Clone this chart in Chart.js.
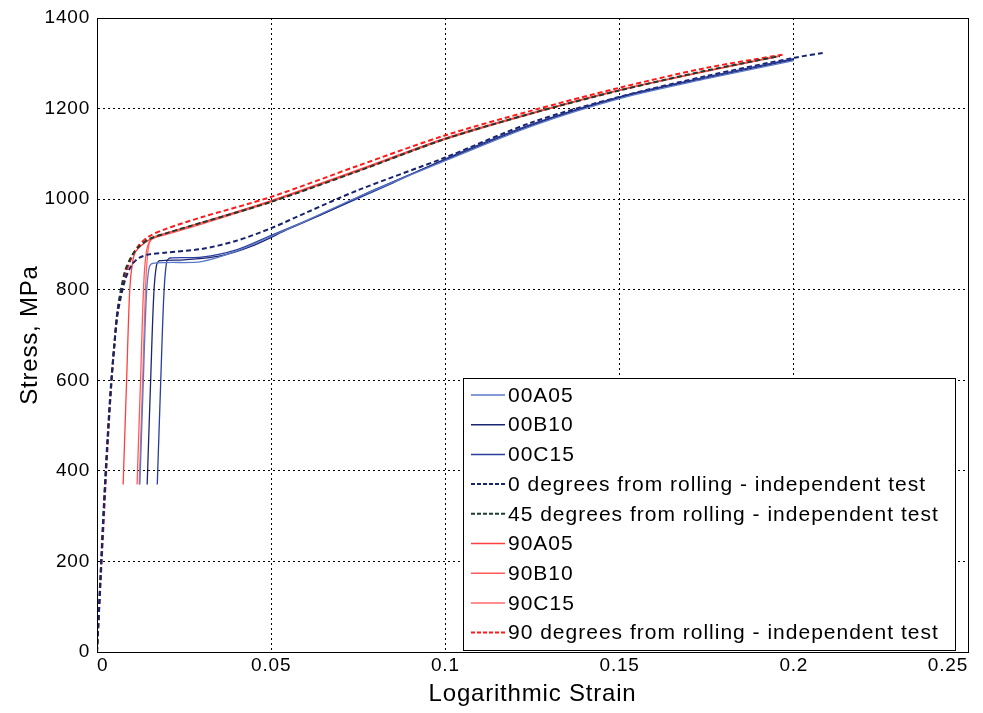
<!DOCTYPE html>
<html>
<head>
<meta charset="utf-8">
<script src="https://cdn.jsdelivr.net/npm/chart.js@4.4.0/dist/chart.umd.min.js"></script>
<style>
  html, body { margin: 0; padding: 0; background: #fff; }
  #wrap { width: 983px; height: 713px; position: relative; }
</style>
</head>
<body>
<div id="wrap"><canvas id="stressChart"></canvas></div>
<script>
// tick values
const xTicks = [0, 0.05, 0.1, 0.15, 0.2, 0.25];
const yTicks = [0, 200, 400, 600, 800, 1000, 1200, 1400];

// 0 degrees specimens (solid)
const strain00A05 = [0.0123, 0.0133, 0.0142, 0.0150, 0.0160, 0.020, 0.030, 0.040, 0.050, 0.060, 0.075, 0.100, 0.125, 0.150, 0.175, 0.200];
const stress00A05 = [370, 600, 790, 850, 858, 860, 862, 885, 918, 952, 1005, 1085, 1162, 1222, 1266, 1306];
const strain00B10 = [0.0144, 0.0154, 0.0163, 0.0171, 0.0180, 0.025, 0.035, 0.045, 0.055, 0.065, 0.080, 0.100, 0.125, 0.150, 0.175, 0.200];
const stress00B10 = [370, 600, 790, 855, 864, 866, 874, 898, 934, 968, 1022, 1087, 1164, 1224, 1268, 1308];
const strain00C15 = [0.0173, 0.0183, 0.0192, 0.0200, 0.0210, 0.030, 0.040, 0.050, 0.060, 0.070, 0.085, 0.100, 0.125, 0.150, 0.175, 0.200];
const stress00C15 = [370, 600, 790, 862, 870, 872, 888, 920, 952, 985, 1036, 1089, 1166, 1226, 1270, 1310];

// independent tests (dashed)
const strain0deg = [0, 0.001, 0.002, 0.003, 0.004, 0.005, 0.006, 0.008, 0.010, 0.012, 0.015, 0.020, 0.030, 0.040, 0.050, 0.060, 0.075, 0.100, 0.125, 0.150, 0.175, 0.200, 0.2085];
const stress0deg = [0, 170, 330, 470, 590, 680, 750, 820, 855, 870, 878, 882, 890, 908, 936, 970, 1020, 1092, 1170, 1226, 1272, 1312, 1323];
const strain45deg = [0, 0.001, 0.002, 0.003, 0.004, 0.005, 0.006, 0.008, 0.010, 0.012, 0.015, 0.020, 0.030, 0.050, 0.075, 0.100, 0.125, 0.150, 0.175, 0.196];
const stress45deg = [0, 160, 320, 460, 580, 680, 760, 840, 875, 895, 912, 925, 948, 994, 1062, 1133, 1190, 1240, 1284, 1316];

// 90 degrees specimens (solid)
const strain90A05 = [0.0075, 0.0085, 0.0094, 0.0102, 0.0112, 0.015, 0.020, 0.030, 0.050, 0.075, 0.100, 0.125, 0.150, 0.175, 0.196];
const stress90A05 = [370, 600, 800, 860, 885, 910, 925, 948, 996, 1064, 1134, 1190, 1241, 1283, 1316];
const strain90B10 = [0.0115, 0.0125, 0.0134, 0.0142, 0.0155, 0.020, 0.030, 0.050, 0.075, 0.100, 0.125, 0.150, 0.175, 0.196];
const stress90B10 = [370, 600, 810, 885, 910, 922, 945, 994, 1062, 1132, 1189, 1240, 1282, 1316];
const strain90C15 = [0.0121, 0.0131, 0.0140, 0.0148, 0.0160, 0.020, 0.030, 0.050, 0.075, 0.100, 0.125, 0.150, 0.175, 0.196];
const stress90C15 = [370, 600, 815, 895, 915, 925, 948, 997, 1065, 1135, 1191, 1241, 1283, 1317];

const strain90deg = [0, 0.001, 0.002, 0.003, 0.004, 0.005, 0.006, 0.008, 0.010, 0.012, 0.015, 0.020, 0.030, 0.050, 0.075, 0.100, 0.125, 0.150, 0.175, 0.1975];
const stress90deg = [0, 150, 300, 450, 580, 680, 760, 830, 872, 898, 918, 935, 960, 1005, 1074, 1141, 1196, 1246, 1290, 1320];

const seriesLabels = ['00A05', '00B10', '00C15',
    '0 degrees from rolling - independent test', '45 degrees from rolling - independent test',
    '90A05', '90B10', '90C15', '90 degrees from rolling - independent test'];

const FONT = '"Liberation Sans", Arial, sans-serif';

function toPoints(xs, ys) {
    return xs.map((x, i) => ({ x: x, y: ys[i] }));
}

const lineSpecs = [
    { xs: strain00A05, ys: stress00A05, color: '#5a78c8', dash: [] },
    { xs: strain00B10, ys: stress00B10, color: '#1c2670', dash: [] },
    { xs: strain00C15, ys: stress00C15, color: '#2a3ea0', dash: [] },
    { xs: strain0deg, ys: stress0deg, color: '#18236e', dash: [5, 3] },
    { xs: strain45deg, ys: stress45deg, color: '#1d3b2e', dash: [5, 3] },
    { xs: strain90A05, ys: stress90A05, color: '#ff4040', dash: [] },
    { xs: strain90B10, ys: stress90B10, color: '#ff5a5a', dash: [] },
    { xs: strain90C15, ys: stress90C15, color: '#ff6a6a', dash: [] },
    { xs: strain90deg, ys: stress90deg, color: '#ff1a1a', dash: [5, 3] }
];

const datasets = lineSpecs.map((s, i) => ({
    label: seriesLabels[i],
    data: toPoints(s.xs, s.ys),
    borderColor: s.color,
    backgroundColor: s.color,
    borderDash: s.dash,
    borderWidth: s.dash.length ? 2 : 1.3,
    pointRadius: 0,
    showLine: true,
    tension: 0.3,
    fill: false
}));

// slightly wider letter spacing, like the scanned Helvetica
const spacing = {
    id: 'spacing',
    beforeLayout(chart) { chart.ctx.letterSpacing = '0.8px'; },
    beforeDraw(chart) { chart.ctx.letterSpacing = '0.8px'; }
};

// box around the axes plus the legend panel
const boxAndLegend = {
    id: 'boxAndLegend',
    afterDraw(chart) {
        const ctx = chart.ctx;
        const a = chart.chartArea;
        ctx.save();
        ctx.strokeStyle = '#000';
        ctx.lineWidth = 1;
        ctx.setLineDash([]);
        ctx.strokeRect(a.left + 0.5, a.top + 0.5, a.right - a.left, a.bottom - a.top);

        // legend
        const lx = 463, ly = 378, lw = 492, lh = 272;
        ctx.fillStyle = '#fff';
        ctx.fillRect(lx, ly, lw, lh);
        ctx.strokeRect(lx + 0.5, ly + 0.5, lw, lh);
        ctx.font = '21px ' + FONT;
        ctx.letterSpacing = '1px';
        ctx.textBaseline = 'middle';
        chart.data.datasets.forEach((ds, i) => {
            const yy = 395 + i * 29.7;
            ctx.strokeStyle = ds.borderColor;
            ctx.lineWidth = ds.borderDash.length ? 2 : 1.5;
            ctx.setLineDash(ds.borderDash.length ? [4, 2] : []);
            ctx.beginPath();
            ctx.moveTo(471, yy);
            ctx.lineTo(505, yy);
            ctx.stroke();
            ctx.fillStyle = '#000';
            ctx.fillText(ds.label, 508, yy + 1);
        });
        ctx.restore();
    }
};

const ctx = document.getElementById('stressChart').getContext('2d');
new Chart(ctx, {
    type: 'scatter',
    data: { datasets: datasets },
    options: {
        responsive: true,
        maintainAspectRatio: false,
        animation: false,
        layout: { padding: { top: 18, right: 15, left: 0, bottom: 0 } },
        plugins: {
            legend: { display: false },
            tooltip: { enabled: false }
        },
        scales: {
            x: {
                type: 'linear',
                min: 0,
                max: 0.25,
                afterBuildTicks: (axis) => { axis.ticks = xTicks.map(v => ({ value: v })); },
                afterFit: (axis) => { axis.height = 61; axis.paddingRight = 0; axis.paddingLeft = 0; },
                ticks: {
                    color: '#000',
                    font: { family: FONT, size: 19 },
                    padding: 2,
                    maxRotation: 0,
                    align: 'inner',
                    callback: (v) => String(v)
                },
                grid: { color: '#000', lineWidth: 1, tickLength: 0, drawTicks: false },
                border: { display: true, color: '#000', dash: [2, 3] },
                title: {
                    display: true,
                    text: 'Logarithmic Strain',
                    color: '#000',
                    font: { family: FONT, size: 24 },
                    padding: { top: 0, bottom: 4 }
                }
            },
            y: {
                type: 'linear',
                min: 0,
                max: 1400,
                afterBuildTicks: (axis) => { axis.ticks = yTicks.map(v => ({ value: v })); },
                afterFit: (axis) => { axis.width = 97; axis.paddingTop = 0; axis.paddingBottom = 0; },
                ticks: {
                    color: '#000',
                    font: { family: FONT, size: 19 },
                    padding: 7,
                    callback: (v) => String(v)
                },
                grid: { color: '#000', lineWidth: 1, tickLength: 0, drawTicks: false },
                border: { display: true, color: '#000', dash: [2, 3] },
                title: {
                    display: true,
                    text: 'Stress, MPa',
                    color: '#000',
                    font: { family: FONT, size: 24 },
                    padding: { top: 16, bottom: 4 }
                }
            }
        }
    },
    plugins: [spacing, boxAndLegend]
});
</script>
</body>
</html>
